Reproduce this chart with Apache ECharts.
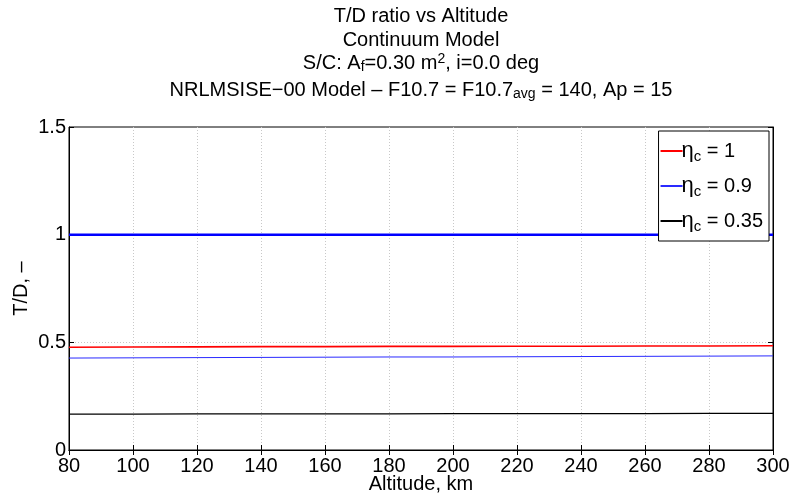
<!DOCTYPE html>
<html><head><meta charset="utf-8">
<script src="https://cdn.jsdelivr.net/npm/echarts@6/dist/echarts.min.js"></script>
<style>html,body{margin:0;padding:0;background:#fff}#c{width:792px;height:496px}</style>
</head><body><div id="c"></div>
<script>
const altitude = [80, 100, 120, 140, 160, 180, 200, 220, 240, 260, 280, 300];
const etaRef = [1, 1, 1, 1, 1, 1, 1, 1, 1, 1, 1, 1];
const eta1 = [0.477, 0.478, 0.479, 0.480, 0.480, 0.481, 0.481, 0.482, 0.482, 0.483, 0.483, 0.484];
const eta09 = [0.427, 0.428, 0.429, 0.430, 0.431, 0.432, 0.432, 0.433, 0.434, 0.435, 0.436, 0.437];
const eta035 = [0.167, 0.167, 0.168, 0.168, 0.168, 0.168, 0.169, 0.169, 0.169, 0.169, 0.170, 0.170];
const xTicks = [80, 100, 120, 140, 160, 180, 200, 220, 240, 260, 280, 300];
const yTicks = [0, 0.5, 1, 1.5];

const font = 'Liberation Sans, Arial, Helvetica, sans-serif';
const pair = (ys) => altitude.map((x, i) => [x, ys[i]]);
const chart = echarts.init(document.getElementById('c'));
const cx = 421;
const FS = 20;
const rich = {
  n: {fontFamily: font, fontSize: FS, fontWeight: 'normal', color: '#000', lineHeight: 22},
  sub: {fontFamily: font, fontSize: 14, fontWeight: 'normal', color: '#000', verticalAlign: 'bottom', lineHeight: 14, padding: [12, 0, 0, 0]},
  sup: {fontFamily: font, fontSize: 14, fontWeight: 'normal', color: '#000', verticalAlign: 'top', lineHeight: 14, padding: [0, 0, 12, 0]},
  e: {fontFamily: font, fontSize: 22, fontWeight: 'normal', color: '#000', lineHeight: 26},
  c: {fontFamily: font, fontSize: 15, fontWeight: 'normal', color: '#000', lineHeight: 26, padding: [11, 0, 0, 0]},
  l: {fontFamily: font, fontSize: FS, fontWeight: 'normal', color: '#000', lineHeight: 26}
};
const legendNames = {'eta1': '{e|η}{c|c}{l| = 1}', 'eta09': '{e|η}{c|c}{l| = 0.9}', 'eta035': '{e|η}{c|c}{l| = 0.35}'};
const plainTitle = {fontFamily: font, fontSize: FS, fontWeight: 'normal', color: '#000'};
chart.setOption({
  animation: false,
  backgroundColor: '#fff',
  title: [
    {text: 'T/D ratio vs Altitude', left: cx, top: 6, padding: 0, textAlign: 'center', textStyle: plainTitle},
    {text: 'Continuum Model', left: cx, top: 30, padding: 0, textAlign: 'center', textStyle: plainTitle},
    {text: '{n|S/C: A}{sub|f}{n|=0.30 m}{sup|2}{n|, i=0.0 deg}', left: cx, top: 52, padding: 0, textAlign: 'center', textStyle: {rich: rich}},
    {text: '{n|NRLMSISE\u221200 Model \u2013 F10.7 = F10.7}{sub|avg}{n| = 140, Ap = 15}', left: cx, top: 79, padding: 0, textAlign: 'center', textStyle: {rich: rich}}
  ],
  grid: {left: 69, right: 19, top: 127, bottom: 46, show: true, borderColor: '#000', borderWidth: 1, backgroundColor: '#fff', containLabel: false, outerBoundsMode: 'none'},
  legend: {
    data: ['eta1', 'eta09', 'eta035'],
    orient: 'vertical', right: 23, top: 131,
    backgroundColor: '#fff', borderColor: '#000', borderWidth: 1,
    padding: [7, 6, 7, 2], itemGap: 9,
    itemWidth: 22, itemHeight: 2, icon: 'rect',
    formatter: (name) => legendNames[name],
    textStyle: {rich: rich, padding: [0, 0, 0, -6]}
  },
  xAxis: [{
    type: 'value', min: 80, max: 300, interval: 20,
    name: 'Altitude, km', nameLocation: 'middle', nameGap: 24, nameMoveOverlap: false,
    nameTextStyle: {fontFamily: font, fontSize: FS, color: '#000'},
    axisLine: {lineStyle: {color: '#000'}},
    axisTick: {inside: true, length: 5, lineStyle: {color: '#000'}},
    axisLabel: {fontFamily: font, fontSize: FS, color: '#000', margin: 6, formatter: (v) => xTicks.includes(v) ? String(v) : ''},
    splitLine: {show: true, showMinLine: false, showMaxLine: false, lineStyle: {color: '#c8c8c8', type: [1, 2], width: 1}}
  }, {
    type: 'value', min: 80, max: 300, interval: 20, position: 'top',
    axisLine: {show: true, lineStyle: {color: '#000'}},
    axisTick: {show: true, inside: true, length: 5, lineStyle: {color: '#000'}},
    axisLabel: {show: false}, splitLine: {show: false}
  }],
  yAxis: [{
    type: 'value', min: 0, max: 1.5, interval: 0.5,
    name: 'T/D, \u2013', nameLocation: 'middle', nameGap: 38, nameMoveOverlap: false,
    nameTextStyle: {fontFamily: font, fontSize: FS, color: '#000'},
    axisLine: {lineStyle: {color: '#000'}},
    axisTick: {inside: true, length: 5, lineStyle: {color: '#000'}},
    axisLabel: {fontFamily: font, fontSize: FS, color: '#000', margin: 3, formatter: (v) => yTicks.includes(v) ? String(v) : ''},
    splitLine: {show: true, showMinLine: false, showMaxLine: false, lineStyle: {color: '#c8c8c8', type: [1, 2], width: 1}}
  }, {
    type: 'value', min: 0, max: 1.5, interval: 0.5, position: 'right',
    axisLine: {show: true, lineStyle: {color: '#000'}},
    axisTick: {show: true, inside: true, length: 5, lineStyle: {color: '#000'}},
    axisLabel: {show: false}, splitLine: {show: false}
  }],
  series: [
    {name: 'ref', type: 'line', data: pair(etaRef), showSymbol: false, lineStyle: {color: '#0000ff', width: 2.5}, itemStyle: {color: '#0000ff'}, z: 3},
    {name: 'eta1', type: 'line', data: pair(eta1), showSymbol: false, lineStyle: {color: '#ff0000', width: 1.6}, itemStyle: {color: '#ff0000'}},
    {name: 'eta09', type: 'line', data: pair(eta09), showSymbol: false, lineStyle: {color: '#2a2aff', width: 1}, itemStyle: {color: '#2a2aff'}},
    {name: 'eta035', type: 'line', data: pair(eta035), showSymbol: false, lineStyle: {color: '#000', width: 1.2}, itemStyle: {color: '#000'}}
  ]
});
</script></body></html>
